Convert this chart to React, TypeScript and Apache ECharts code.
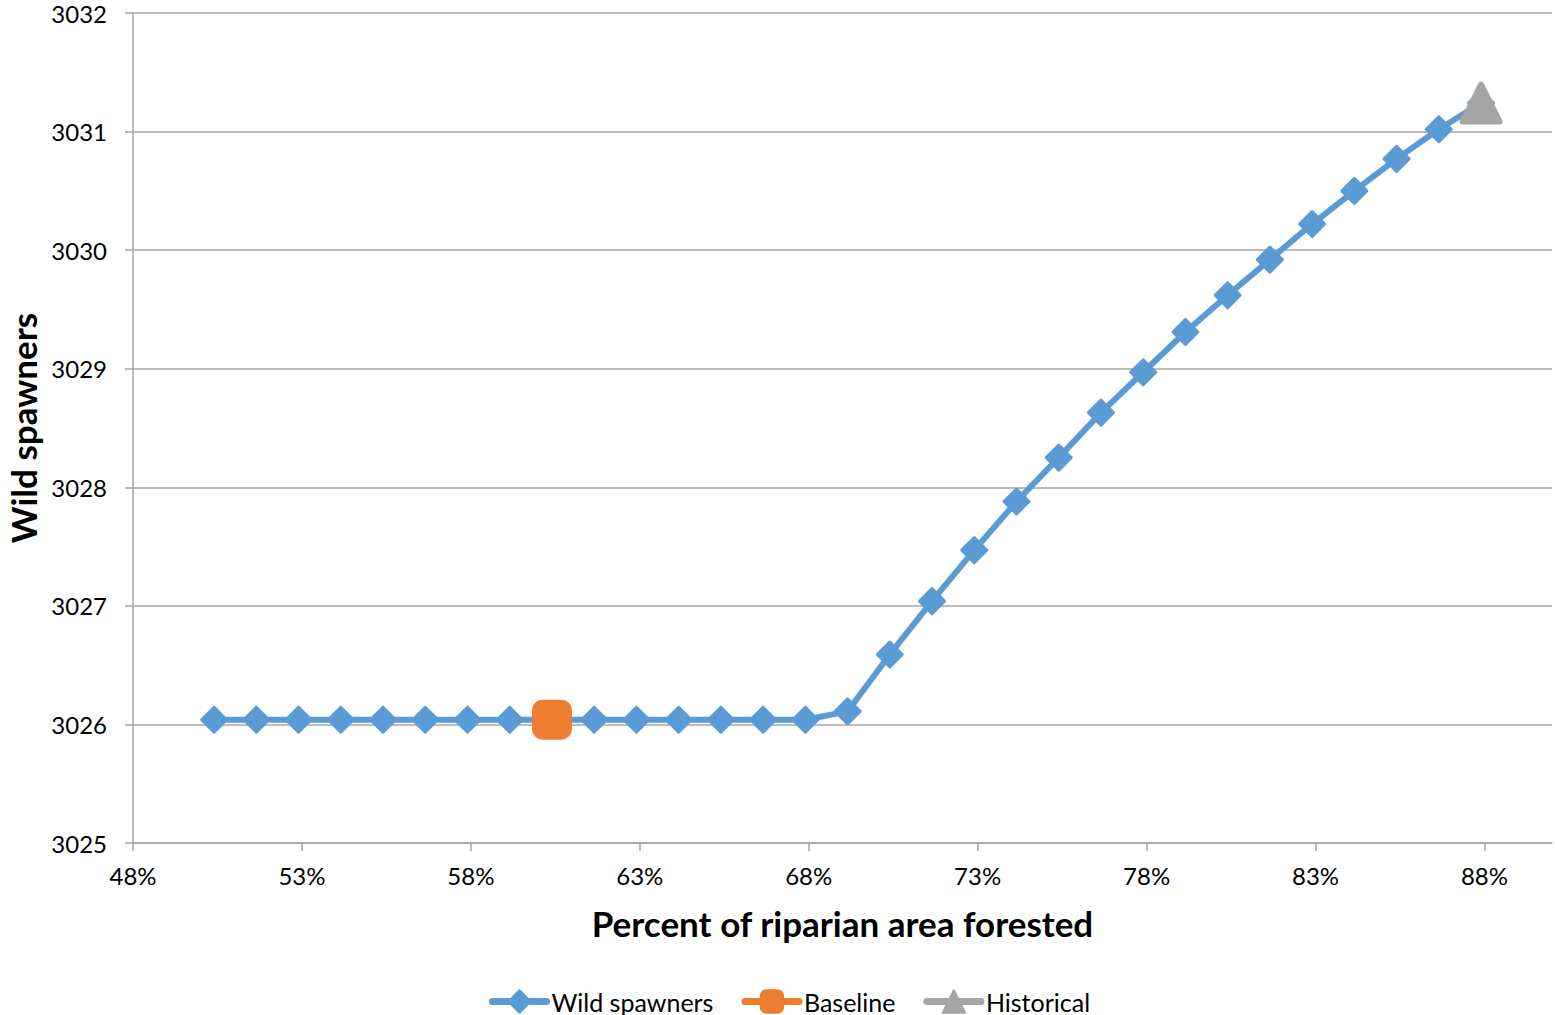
import React, { useEffect, useRef } from "react";
import * as echarts from "echarts";

// Percent of riparian area forested (x) and modelled wild spawners (y)
const pctForested = [
  50.4, 51.65, 52.9, 54.15, 55.4, 56.65, 57.9, 59.15, 60.4, 61.65, 62.9,
  64.15, 65.4, 66.65, 67.9, 69.15, 70.4, 71.65, 72.9, 74.15, 75.4, 76.65,
  77.9, 79.15, 80.4, 81.65, 82.9, 84.15, 85.4, 86.65, 87.9,
];
const wildSpawners = [
  3026.04, 3026.04, 3026.04, 3026.04, 3026.04, 3026.04, 3026.04, 3026.04,
  3026.04, 3026.04, 3026.04, 3026.04, 3026.04, 3026.04, 3026.04, 3026.11,
  3026.59, 3027.04, 3027.47, 3027.88, 3028.25, 3028.63, 3028.97, 3029.31,
  3029.62, 3029.92, 3030.22, 3030.5, 3030.77, 3031.02, 3031.24,
];
const baselinePoint = [60.4, 3026.04];
const historicalPoint = [87.9, 3031.24];
const xTickValues = [48, 53, 58, 63, 68, 73, 78, 83, 88];

const FONT = "Lato";
const GRID_GRAY = "#a6a6a6";

export default function App() {
  const ref = useRef<HTMLDivElement>(null);

  useEffect(() => {
    if (!ref.current) return;
    const chart = echarts.init(ref.current, null, { renderer: "svg" });
    chart.setOption({
      animation: false,
      backgroundColor: "#ffffff",
      textStyle: { fontFamily: FONT, color: "#000" },
      grid: { left: 133, right: 3, top: 13, bottom: 172, outerBoundsMode: "none", containLabel: false },
      xAxis: {
        type: "value",
        min: 48,
        max: 90,
        name: "Percent of riparian area forested",
        nameLocation: "middle",
        nameGap: 62,
        nameTextStyle: { fontFamily: FONT, fontSize: 35, fontWeight: "bold", color: "#000" },
        axisLine: { show: true, lineStyle: { color: GRID_GRAY, width: 1.5 } },
        axisTick: {
          show: true,
          length: 8,
          customValues: xTickValues,
          lineStyle: { color: GRID_GRAY, width: 1.5 },
        },
        axisLabel: {
          customValues: xTickValues,
          formatter: (v: number) => `${v}%`,
          fontFamily: FONT,
          fontSize: 24,
          color: "#000",
          margin: 20,
        },
        splitLine: { show: false },
      },
      yAxis: {
        type: "value",
        min: 3025,
        max: 3032,
        interval: 1,
        name: "Wild spawners",
        nameLocation: "middle",
        nameGap: 93,
        nameTextStyle: { fontFamily: FONT, fontSize: 35, fontWeight: "bold", color: "#000" },
        axisLine: { show: true, lineStyle: { color: GRID_GRAY, width: 1.5 } },
        axisTick: { show: true, length: 8, lineStyle: { color: GRID_GRAY, width: 1.5 } },
        axisLabel: {
          formatter: (v: number) => String(v),
          fontFamily: FONT,
          fontSize: 24,
          color: "#000",
          margin: 26,
        },
        splitLine: { show: true, lineStyle: { color: GRID_GRAY, width: 1.5 } },
      },
      legend: {
        bottom: -4,
        left: 484,
        itemWidth: 54,
        itemHeight: 28,
        itemGap: 28,
        lineStyle: { width: 7, cap: "round" },
        textStyle: { fontFamily: FONT, fontSize: 25, color: "#000" },
        data: ["Wild spawners", "Baseline", "Historical"],
      },
      series: [
        {
          name: "Wild spawners",
          type: "line",
          data: pctForested.map((x, i) => [x, wildSpawners[i]]),
          symbol: "diamond",
          symbolSize: 25,
          lineStyle: { color: "#5b9bd5", width: 6 },
          itemStyle: {
            color: "#5b9bd5",
            borderColor: "#5b9bd5",
            borderWidth: 3,
            borderJoin: "round",
          },
          z: 2,
        },
        {
          name: "Baseline",
          type: "line",
          data: [baselinePoint],
          symbol: "roundRect",
          symbolSize: 38,
          lineStyle: { color: "#ed7d31", width: 6 },
          itemStyle: {
            color: "#ed7d31",
            borderColor: "#ed7d31",
            borderWidth: 2,
            borderJoin: "round",
          },
          z: 3,
        },
        {
          name: "Historical",
          type: "line",
          data: [historicalPoint],
          symbol: "triangle",
          symbolSize: [37, 37],
          lineStyle: { color: "#a5a5a5", width: 6 },
          itemStyle: {
            color: "#a5a5a5",
            borderColor: "#a5a5a5",
            borderWidth: 6,
            borderJoin: "round",
          },
          z: 4,
        },
      ],
    });
    return () => chart.dispose();
  }, []);

  return (
    <div
      ref={ref}
      style={{ position: "fixed", left: 0, top: 0, width: 1555, height: 1015 }}
    />
  );
}
